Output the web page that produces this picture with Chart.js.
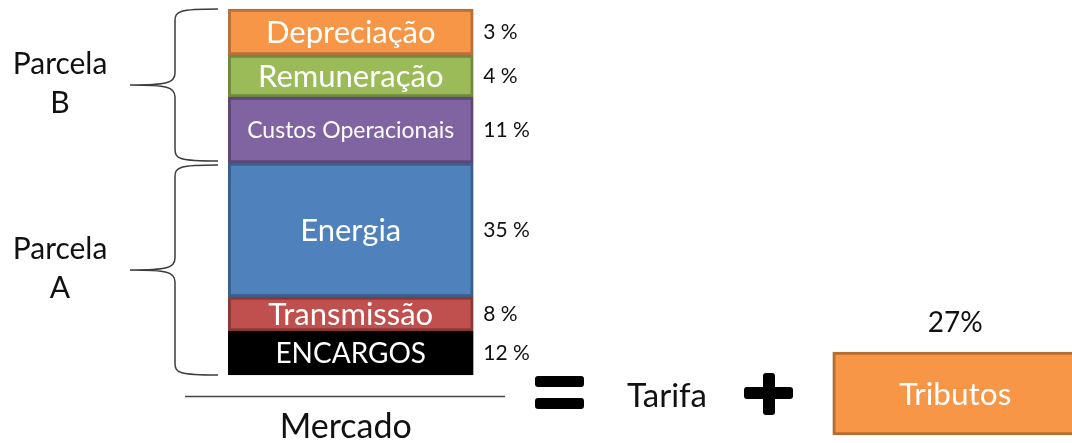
<!DOCTYPE html>
<html lang="pt">
<head>
<meta charset="utf-8">
<title>Composição da tarifa</title>
<script src="https://cdn.jsdelivr.net/npm/chart.js@4.4.0/dist/chart.umd.min.js"></script>
<style>
  html, body { margin: 0; padding: 0; background: #fff; }
  #wrap { width: 1072px; height: 443px; position: relative; }
</style>
</head>
<body>
<div id="wrap"><canvas id="tarifaChart"></canvas></div>
<script>
// --- dados (de baixo para cima na barra "Mercado") ---
const categories = ["Mercado", "=", "+", "Tributos"];
const components = ["ENCARGOS", "Transmissão", "Energia", "Custos Operacionais", "Remuneração", "Depreciação"];
// tamanho de cada bloco como aparece no desenho (não é proporcional ao %)
const blockValues = [44, 34, 134, 66, 42, 46];
const shares = [12, 8, 35, 11, 4, 3];
const parcelaNames = ["Parcela A", "Parcela B"];
const parcelaCounts = [3, 3]; // A = 3 primeiros blocos, B = 3 últimos
const tributosValue = 83;
const tributosShare = 27;

// --- estilos ---
const palette = [
  { fill: "#000000", border: "#000000" },
  { fill: "#c0504d", border: "#8c3836" },
  { fill: "#4f81bd", border: "#3a5f8c" },
  { fill: "#8064a2", border: "#5c4776" },
  { fill: "#9bbb59", border: "#71893f" },
  { fill: "#f79646", border: "#b7703a" },
];
const FONT = "Lato, 'Open Sans', sans-serif";
const TEXT = "#111111";

const datasets = components.map((name, i) => ({
  label: name,
  data: [blockValues[i], null, null, null],
  backgroundColor: palette[i].fill,
  borderColor: palette[i].border,
  borderWidth: 3,
  borderSkipped: false,
  barThickness: 245,
  grouped: false,
  clip: false,
  stack: "mercado",
  yAxisID: "y",
}));
datasets.push({
  label: "Tributos",
  data: [null, null, null, tributosValue],
  backgroundColor: "#f79646",
  borderColor: "#b66d31",
  borderWidth: 3,
  borderSkipped: false,
  barThickness: 245,
  grouped: false,
  clip: false,
  stack: "tributos",
  yAxisID: "y2",
});

function drawBrace(ctx, xTip, xSpine, xEnd, yTop, yBot) {
  const yMid = (yTop + yBot) / 2;
  const r = 12;
  ctx.beginPath();
  ctx.moveTo(xEnd, yTop);
  ctx.bezierCurveTo(xSpine + 4, yTop, xSpine, yTop + 2, xSpine, yTop + r);
  ctx.lineTo(xSpine, yMid - r);
  ctx.bezierCurveTo(xSpine, yMid - 2, xSpine - 8, yMid, xTip, yMid);
  ctx.bezierCurveTo(xSpine - 8, yMid, xSpine, yMid + 2, xSpine, yMid + r);
  ctx.lineTo(xSpine, yBot - r);
  ctx.bezierCurveTo(xSpine, yBot - 2, xSpine + 4, yBot, xEnd, yBot);
  ctx.stroke();
}

function pill(ctx, x, y, w, h) {
  ctx.beginPath();
  if (ctx.roundRect) ctx.roundRect(x, y, w, h, 3);
  else ctx.rect(x, y, w, h);
  ctx.fill();
}

// textos, chaves e sinais
const annotations = {
  id: "annotations",
  afterDatasetsDraw(chart) {
    const ctx = chart.ctx;
    ctx.save();
    ctx.textBaseline = "middle";

    // rótulos dos blocos + percentuais
    components.forEach((name, i) => {
      const bar = chart.getDatasetMeta(i).data[0];
      const mid = (bar.y + bar.base) / 2;
      let size = name === name.toUpperCase() ? 28 : 31;
      ctx.font = `${size}px ${FONT}`;
      const maxW = bar.width - 30;
      const w = ctx.measureText(name).width;
      if (w > maxW) {
        size = Math.floor(size * maxW / w);
        ctx.font = `${size}px ${FONT}`;
      }
      ctx.fillStyle = "#ffffff";
      ctx.textAlign = "center";
      ctx.fillText(name, bar.x, mid + 1);

      ctx.font = `21px ${FONT}`;
      ctx.fillStyle = TEXT;
      ctx.textAlign = "left";
      ctx.fillText(`${shares[i]} %`, bar.x + bar.width / 2 + 10, mid);
    });

    // chaves Parcela A / Parcela B
    ctx.strokeStyle = "#3c3c3c";
    ctx.lineWidth = 1.5;
    let start = 0;
    parcelaNames.forEach((pname, p) => {
      const first = chart.getDatasetMeta(start).data[0];
      const last = chart.getDatasetMeta(start + parcelaCounts[p] - 1).data[0];
      const yBot = first.base - (p === 0 ? 0 : 2);
      const yTop = last.y + (p === 0 ? 2 : 0);
      drawBrace(ctx, 130, 175, 218, yTop, yBot);
      const tipY = (yTop + yBot) / 2;
      const parts = pname.split(" ");
      ctx.font = `30px ${FONT}`;
      ctx.fillStyle = TEXT;
      ctx.textAlign = "center";
      ctx.fillText(parts[0], 60, tipY - 21);
      ctx.fillText(parts[1], 60, tipY + 18);
      start += parcelaCounts[p];
    });

    // linha e rótulo "Mercado"
    const base = chart.getDatasetMeta(0).data[0];
    ctx.strokeStyle = "#444444";
    ctx.lineWidth = 1.5;
    ctx.beginPath();
    ctx.moveTo(185, 396.5);
    ctx.lineTo(505, 396.5);
    ctx.stroke();
    ctx.font = `34px ${FONT}`;
    ctx.fillStyle = TEXT;
    ctx.textAlign = "center";
    ctx.fillText(categories[0], base.x - 5, 427);

    // "=" Tarifa "+"
    ctx.fillStyle = "#000000";
    pill(ctx, 535, 376, 49, 11);
    pill(ctx, 535, 398, 49, 11);
    pill(ctx, 744, 387, 49, 12);
    pill(ctx, 763, 373, 12, 42);
    ctx.fillStyle = TEXT;
    ctx.font = `33px ${FONT}`;
    ctx.fillText("Tarifa", 667, 396);

    // Tributos
    const trib = chart.getDatasetMeta(components.length).data[3];
    ctx.fillStyle = "#ffffff";
    ctx.font = `31.5px ${FONT}`;
    ctx.fillText(categories[3], trib.x, (trib.y + trib.base) / 2 + 1);
    ctx.fillStyle = TEXT;
    ctx.font = `28px ${FONT}`;
    ctx.fillText(`${tributosShare}%`, trib.x, trib.y - 29);

    ctx.restore();
  },
};

const canvas = document.getElementById("tarifaChart");
new Chart(canvas.getContext("2d"), {
  type: "bar",
  data: { labels: categories, datasets: datasets },
  options: {
    responsive: true,
    maintainAspectRatio: false,
    animation: false,
    layout: { padding: { left: 250, right: 16, top: 0, bottom: 0 } },
    plugins: { legend: { display: false }, tooltip: { enabled: false } },
    scales: {
      x: { display: false, stacked: true },
      y: { display: false, stacked: true, min: -68, max: 375 },
      y2: { display: false, min: -8, max: 435 },
    },
  },
  plugins: [annotations],
});
</script>
</body>
</html>
